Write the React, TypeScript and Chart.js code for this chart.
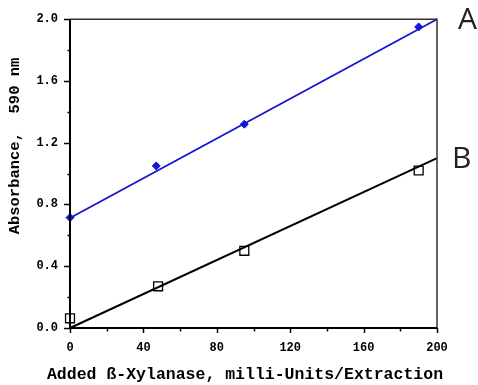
import React, { useEffect, useRef } from "react";
import { Chart, registerables } from "chart.js";

Chart.register(...registerables);

// Data
const seriesA = [
  { x: 0, y: 0.715 },
  { x: 47, y: 1.05 },
  { x: 95, y: 1.32 },
  { x: 190, y: 1.95 },
];
const seriesB = [
  { x: 0, y: 0.063 },
  { x: 48, y: 0.27 },
  { x: 95, y: 0.5 },
  { x: 190, y: 1.02 },
];
const fitA = [
  { x: 0, y: 0.712 },
  { x: 200, y: 2.0 },
];
const fitB = [
  { x: 0, y: 0.0 },
  { x: 200, y: 1.1 },
];
const xTitle = "Added ß-Xylanase, milli-Units/Extraction";
const yTitle = "Absorbance,  590 nm";
const curveLabels = ["A", "B"];

const MONO = "'Liberation Mono', 'Courier New', monospace";

const framePlugin = {
  id: "frame",
  afterDraw(chart: any) {
    const { ctx, chartArea } = chart;
    const { left, right, top, bottom } = chartArea;
    const xs = chart.scales.x;
    const ys = chart.scales.y;
    ctx.save();
    // top + right frame
    ctx.strokeStyle = "#333";
    ctx.lineWidth = 1.5;
    ctx.beginPath();
    ctx.moveTo(left, top);
    ctx.lineTo(right, top);
    ctx.lineTo(right, bottom);
    ctx.stroke();
    // axes
    ctx.strokeStyle = "#000";
    ctx.lineWidth = 2;
    ctx.beginPath();
    ctx.moveTo(left, top);
    ctx.lineTo(left, bottom);
    ctx.lineTo(right, bottom);
    ctx.stroke();
    // ticks
    ctx.lineWidth = 1.5;
    ctx.beginPath();
    for (let i = 0; i <= 10; i++) {
      const v = i * 0.2;
      const py = Math.round(ys.getPixelForValue(v)) + 0.5;
      const len = i % 2 === 0 ? 6 : 2.5;
      ctx.moveTo(left - len, py);
      ctx.lineTo(left, py);
    }
    for (let i = 0; i <= 10; i++) {
      const v = i * 20;
      const px = Math.round(xs.getPixelForValue(v)) + 0.5;
      const len = i % 2 === 0 ? 5 : 3.5;
      ctx.moveTo(px, bottom);
      ctx.lineTo(px, bottom + len);
    }
    ctx.stroke();

    // y title
    ctx.fillStyle = "#000";
    ctx.textAlign = "center";
    ctx.textBaseline = "middle";
    ctx.save();
    ctx.font = `bold 15.5px ${MONO}`;
    ctx.translate(15, 146);
    ctx.rotate(-Math.PI / 2);
    ctx.fillText(yTitle, 0, 0);
    ctx.restore();
    // x title
    ctx.font = `bold 16.5px ${MONO}`;
    ctx.fillText(xTitle, 245, 375);

    // curve labels
    ctx.fillStyle = "#222";
    ctx.font = `30px 'Open Sans', 'Noto Sans', sans-serif`;
    ctx.textAlign = "left";
    ctx.textBaseline = "alphabetic";
    ctx.fillText(curveLabels[0], 458, 29);
    ctx.fillText(curveLabels[1], 452, 168);
    ctx.restore();
  },
};

export default function App() {
  const ref = useRef<HTMLCanvasElement>(null);
  useEffect(() => {
    const chart = new Chart(ref.current as HTMLCanvasElement, {
      type: "scatter",
      data: {
        datasets: [
          {
            type: "line",
            data: fitA,
            borderColor: "#1414d2",
            borderWidth: 1.8,
            pointRadius: 0,
            showLine: true,
            fill: false,
            clip: false,
          },
          {
            type: "line",
            data: fitB,
            borderColor: "#000",
            borderWidth: 2,
            pointRadius: 0,
            showLine: true,
            fill: false,
            clip: false,
          },
          {
            data: seriesA,
            pointStyle: "rectRot",
            pointRadius: 4,
            backgroundColor: "#1414d2",
            borderColor: "#1414d2",
            borderWidth: 1,
            clip: false,
          },
          {
            data: seriesB,
            pointStyle: "rect",
            pointRadius: 6.3,
            backgroundColor: "#fff",
            borderColor: "#000",
            borderWidth: 1.3,
            clip: false,
          },
        ],
      } as any,
      plugins: [framePlugin],
      options: {
        animation: false,
        responsive: false,
        maintainAspectRatio: false,
        layout: { padding: { left: 0, right: 41, top: 12, bottom: 0 } },
        plugins: {
          legend: { display: false },
          tooltip: { enabled: false },
        },
        scales: {
          x: {
            type: "linear",
            min: 0,
            max: 200,
            ticks: {
              stepSize: 40,
              color: "#000",
              font: { family: MONO, size: 12, weight: "bold" },
              padding: 13,
              maxRotation: 0,
            },
            grid: { display: false, drawTicks: false },
            border: { display: false },
            afterFit: (s: any) => {
              s.height = 57;
            },
          },
          y: {
            type: "linear",
            min: 0,
            max: 2,
            ticks: {
              stepSize: 0.4,
              color: "#000",
              font: { family: MONO, size: 12, weight: "bold" },
              padding: 12,
              callback: (v: any) => Number(v).toFixed(1),
            },
            grid: { display: false, drawTicks: false },
            border: { display: false },
            afterFit: (s: any) => {
              s.width = 70;
            },
          },
        },
      } as any,
    });
    return () => chart.destroy();
  }, []);
  return (
    <div style={{ position: "fixed", left: 0, top: 0, width: 478, height: 385, background: "#fff" }}>
      <canvas ref={ref} width={478} height={385} style={{ width: 478, height: 385 }} />
    </div>
  );
}
